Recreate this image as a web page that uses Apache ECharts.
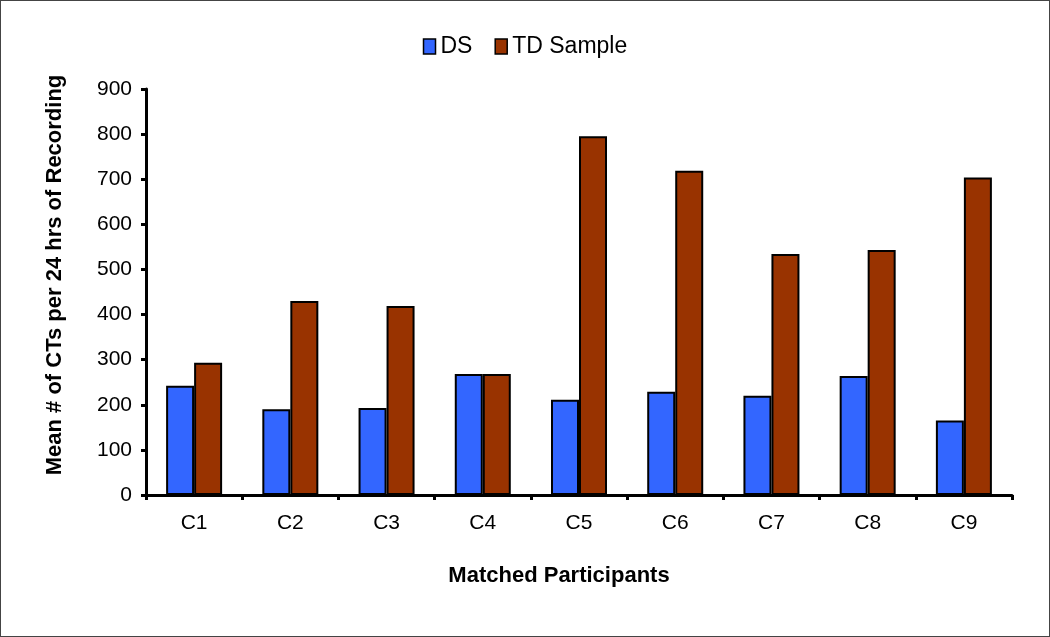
<!DOCTYPE html>
<html><head><meta charset="utf-8">
<script src="https://cdn.jsdelivr.net/npm/echarts@6/dist/echarts.min.js"></script>
<style>
html,body{margin:0;padding:0;background:#fff;}
#c{width:1048px;height:635px;border:1px solid #444;}
</style></head>
<body><div id="c"></div>
<script>
const categories = ['C1','C2','C3','C4','C5','C6','C7','C8','C9'];
const dsValues = [242, 190, 193, 268, 211, 229, 220, 264, 165];
const tdValues = [293, 430, 419, 268, 795, 719, 534, 543, 704];
const seriesNames = ['DS', 'TD Sample'];

const chart = echarts.init(document.getElementById('c'));
const font = '"Liberation Sans", Arial, sans-serif';
chart.setOption({
  animation: false,
  backgroundColor: '#fff',
  legend: {
    top: 29, left: 'center',
    icon: 'rect',
    itemWidth: 12, itemHeight: 15, itemGap: 22,
    itemStyle: {borderColor: '#000', borderWidth: 1.5},
    textStyle: {fontFamily: font, fontSize: 23, color: '#000'},
    data: seriesNames
  },
  grid: {left: 145, right: 37, top: 88, bottom: 141},
  xAxis: {
    type: 'category', data: categories,
    boundaryGap: true,
    name: 'Matched Participants', nameLocation: 'middle', nameGap: 70,
    nameTextStyle: {fontFamily: font, fontSize: 22, fontWeight: 'bold', color: '#000', padding: [0, 40, 0, 0]},
    axisLine: {lineStyle: {color: '#000', width: 3}},
    axisTick: {show: true, length: 5, lineStyle: {color: '#000', width: 3}},
    axisLabel: {fontFamily: font, fontSize: 21, color: '#000', margin: 18}
  },
  yAxis: {
    type: 'value', min: 0, max: 900, interval: 100,
    name: 'Mean # of CTs per 24 hrs of Recording', nameLocation: 'middle', nameGap: 80,
    nameTextStyle: {fontFamily: font, fontSize: 22, fontWeight: 'bold', color: '#000', padding: [0, 0, 0, 34]},
    axisLine: {show: true, lineStyle: {color: '#000', width: 3}},
    axisTick: {show: true, length: 5, lineStyle: {color: '#000', width: 3}},
    axisLabel: {fontFamily: font, fontSize: 21, color: '#000', margin: 14},
    splitLine: {show: false}
  },
  series: [
    {name: seriesNames[0], type: 'bar', data: dsValues, barWidth: 28, barGap: '0%',
     itemStyle: {color: '#3366FF', borderColor: '#000', borderWidth: 2}},
    {name: seriesNames[1], type: 'bar', data: tdValues, barWidth: 28, barGap: '0%',
     itemStyle: {color: '#993300', borderColor: '#000', borderWidth: 2}}
  ]
});
</script></body></html>
